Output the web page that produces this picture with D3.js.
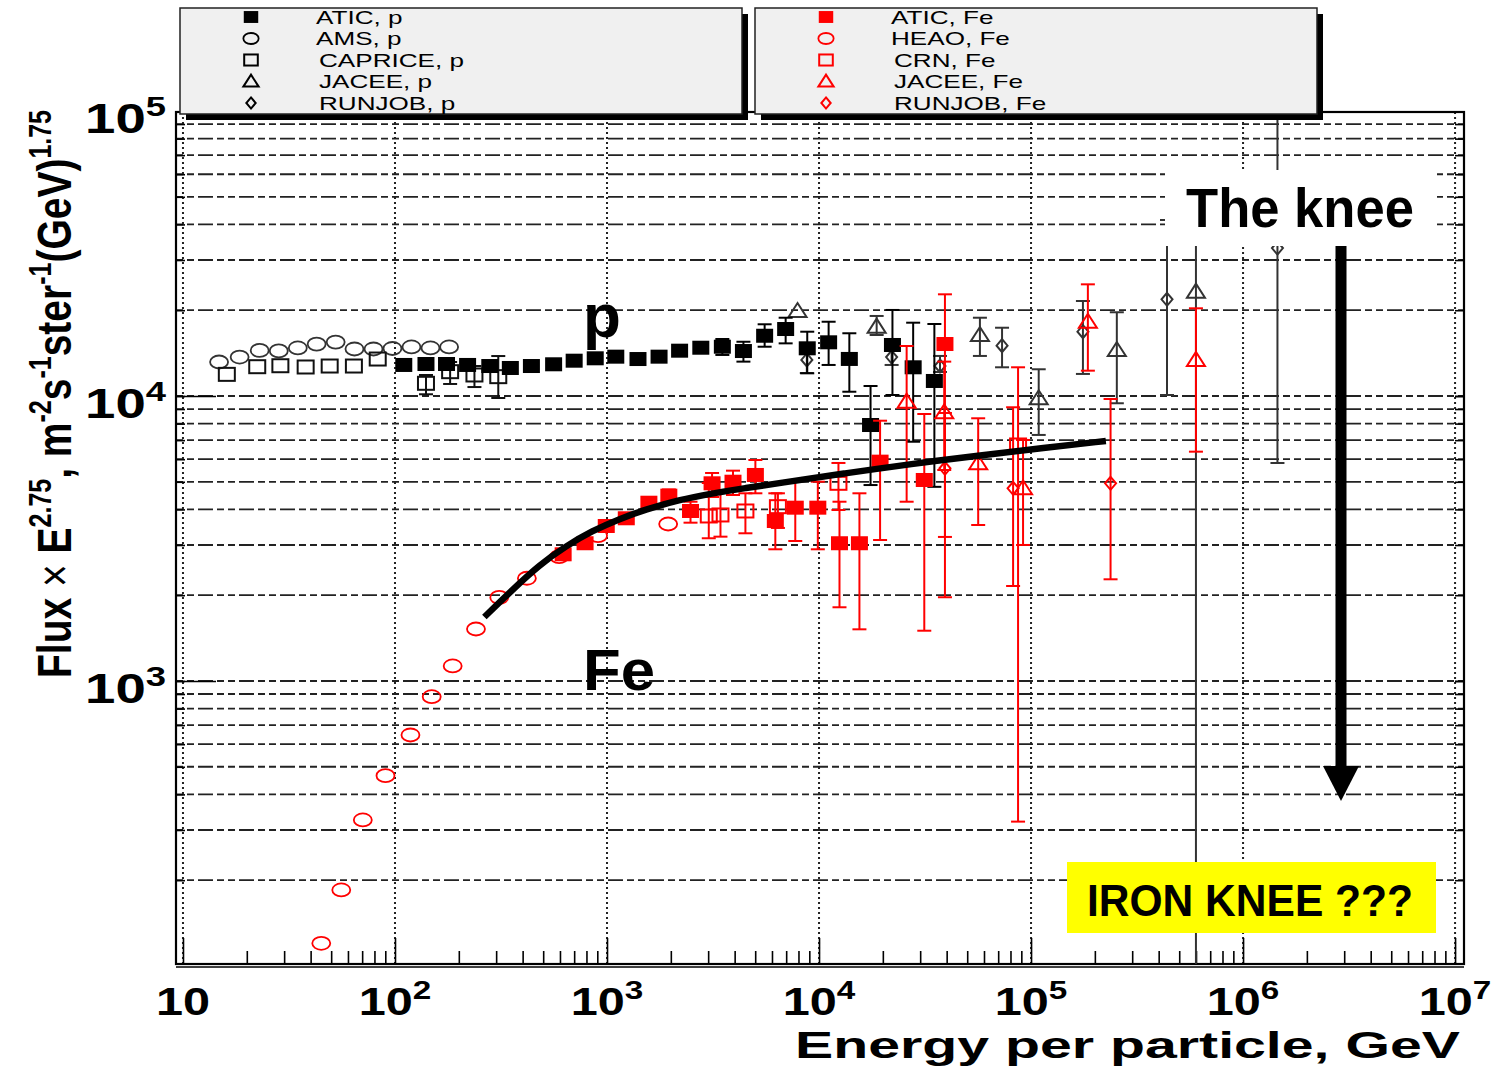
<!DOCTYPE html>
<html>
<head>
<meta charset="utf-8">
<script src="https://cdn.jsdelivr.net/npm/d3@7"></script>
<style>
  html, body { margin: 0; padding: 0; background: #ffffff; }
  svg { display: block; }
</style>
</head>
<body>
<svg id="chart" width="1499" height="1067"></svg>
<script>
// ---------------- DATA (energy GeV, flux*E^2.75, [lower, upper]) ----------------
const aticP = [
  [110,12850],[140,12950],[175,12950],[220,12850],[280,12740],[350,12540],[440,12740],
  [560,12920],[700,13300],[880,13560],[1100,13740],[1400,13480],[1760,13740],[2200,14420],
  [2770,14770],[3500,14890,13930,15850],[4400,14380,13200,15500],[5540,16270,14890,17850],
  [6960,17180,15300,18820],[8800,14700,12010,16810],[11100,15430,12850,18220],
  [13900,13490,10350,16600],[17500,7910,4870,10840],[22200,15100,10080,20040],
  [27800,12610,6910,18080],[35000,11290,4800,17890]
];
const amsP = [
  [14.8,13160],[18.5,13700],[23.0,14450],[28.3,14390],[34.8,14740],[42.7,15210],[52.5,15460],
  [64.4,14620],[79.2,14620],[97.3,14680],[119.6,14860],[147,14740],[180,14860]
];
const capriceP = [
  [16.1,11910],[22.4,12670],[28.8,12770],[37.9,12640],[49.2,12740],[64.0,12740],[82.9,13480],
  [140,11080,10140,11850],[182,12170,11020,13160],[237,11850,10750,12740],[307,11690,9840,13810]
];
const jaceeP = [
  [7920,19870],[18700,17510,16370,19090],[57400,16370,13820,18820],[108700,9815,7300,12410],
  [253900,14500,9430,19670],[599600,23230,50,43150]
];
const runjobP = [
  [8760,13380,12040,14270],[22000,13700,12850,14620],[37200,12740,12140,13820],
  [73000,15020,12610,17360],[175700,16810,11950,21540],[437900,21840,10080,41450],
  [1453000,33040,5820,200000]
];
const aticFe = [
  [621,2783],[788,3043],[992,3498],[1233,3723],[1576,4222],[1957,4469,4250,4700],
  [2477,3949,3593,4256],[3130,4939,4422,5369],[3929,5003,4494,5470],[5010,5283,4556,5963],
  [6222,3642,2898,4556],[7727,4056,3099,5003],[9871,4056,2898,5003],[12490,3043,1814,4256],
  [15510,3043,1518,4556],[19410,5883,3124,8190],[31370,5073,1501,8646],[39260,15220,1967,22740]
];
const heaoFe = [
  [44.9,120.1],[55.8,184.8],[70.5,325.3],[90.2,465.3],[118.3,646.4],[149,880.7],[187.1,1129],
  [241,1522],[310.3,1964],[418.9,2293],[594.5,2730],[907.2,3235],[1943,3555]
];
const crnFe = [
  [3020,3793,3168,4950],[3429,3824,3209,4680],[4496,3949,3298,4556],[6399,4089,3443,4556],
  [12350,4939,3981,5821],[86860,6731,321,12610]
];
const jaceeFe = [
  [25900,9550,4256,14980],[38960,8767,5500,13200],[56330,5806,3527,8352],[91700,4744,3001,7010],
  [185400,18220,12270,24650],[599600,13380,6377,20310]
];
const runjobFe = [
  [39260,5575,3202,8718],[82300,4744,2154,9129],[237200,4939,2274,9761]
];
const fitFe = [
  [264,1677],[357,2086],[479,2553],[641,2977],[850,3360],[1139,3702],[1526,3998],[2182,4317],
  [3120,4549],[4496,4756],[6448,4939],[13290,5357],[27250,5772],[56330,6183],[115100,6569],[225400,6954]
];

const xDecades = [1e1,1e2,1e3,1e4,1e5,1e6,1e7];
const xDecadeExp = ["","2","3","4","5","6","7"];
const yDecades = [1e3,1e4,1e5];
const yDecadeExp = ["3","4","5"];
const legendP = ["ATIC, p","AMS, p","CAPRICE, p","JACEE, p","RUNJOB, p"];
const legendFe = ["ATIC, Fe","HEAO, Fe","CRN, Fe","JACEE, Fe","RUNJOB, Fe"];
const legendMarkers = ["fsquare","circle","square","triangle","diamond"];

// ---------------- LAYOUT ----------------
const FONT = "'Liberation Sans', Arial, Helvetica, sans-serif";
const L = 176, R = 1464, T = 112, B = 964;
const RED = "#ff0000", BLK = "#111111";

const svg = d3.select("#chart");
const x = d3.scaleLog().domain([9.27, 1.102e7]).range([L, R]);
const y = d3.scaleLog().domain([101.6, 99200]).range([B, T]);

svg.append("defs").append("clipPath").attr("id","plotclip")
  .append("rect").attr("x",L).attr("y",T).attr("width",R-L).attr("height",B-T);

// ---------------- GRID ----------------
const minorY = [];
[100,1000,10000].forEach(d => { for (let m=1;m<=9;m++){ const v=m*d; if (v>=200 && v<=90000) minorY.push(v);} });
const minorX = [];
[10,100,1000,1e4,1e5,1e6].forEach(d => { for (let m=2;m<=9;m++) minorX.push(m*d); });

const grid = svg.append("g");
grid.selectAll("line.h").data(minorY).join("line")
  .attr("x1",L).attr("x2",R).attr("y1",d=>y(d)).attr("y2",d=>y(d))
  .attr("stroke","#222").attr("stroke-width",1.8).attr("stroke-dasharray","7,4,7,4,15,4");
grid.selectAll("line.v").data(xDecades).join("line")
  .attr("x1",d=>x(d)).attr("x2",d=>x(d)).attr("y1",T).attr("y2",B)
  .attr("stroke","#222").attr("stroke-width",2).attr("stroke-dasharray","2,3");

// ---------------- AXES (ticks) ----------------
function styleAxis(g){ g.select(".domain").remove(); g.selectAll("text").remove();
  g.selectAll("line").attr("stroke","#000").attr("stroke-width",1.6); }
svg.append("g").attr("transform",`translate(0,${B})`)
  .call(d3.axisBottom(x).tickValues(xDecades).tickSize(-26).tickFormat("")).call(styleAxis);
svg.append("g").attr("transform",`translate(0,${B})`)
  .call(d3.axisBottom(x).tickValues(minorX).tickSize(-13).tickFormat("")).call(styleAxis);
svg.append("g").attr("transform",`translate(${L},0)`)
  .call(d3.axisLeft(y).tickValues(yDecades.filter(v=>v<99000)).tickSize(-40).tickFormat("")).call(styleAxis);
svg.append("g").attr("transform",`translate(${L},0)`)
  .call(d3.axisLeft(y).tickValues(minorY).tickSize(-9).tickFormat("")).call(styleAxis);
svg.append("g").attr("transform",`translate(${R},0)`)
  .call(d3.axisRight(y).tickValues(minorY.concat([1e3,1e4])).tickSize(-9).tickFormat("")).call(styleAxis);

// frame
svg.append("rect").attr("x",L).attr("y",T).attr("width",R-L).attr("height",B-T)
  .attr("fill","none").attr("stroke","#000").attr("stroke-width",2.2);
svg.append("line").attr("x1",L).attr("x2",R).attr("y1",B+3).attr("y2",B+3)
  .attr("stroke","#000").attr("stroke-width",1.4);

// tick labels
const xl = svg.append("g").attr("font-family",FONT).attr("font-weight","bold").attr("fill","#000");
xDecades.forEach((d,i) => {
  const t = xl.append("text").attr("transform",`translate(${x(d)},1015) scale(1.28,1)`)
    .attr("text-anchor","middle").attr("font-size",38);
  t.append("tspan").text("10");
  if (xDecadeExp[i]) t.append("tspan").attr("dy",-16).attr("font-size",26).text(xDecadeExp[i]);
});
yDecades.forEach((d,i) => {
  const t = xl.append("text").attr("transform",`translate(166,${y(d)+22}) scale(1.3,1)`)
    .attr("text-anchor","end").attr("font-size",42);
  t.append("tspan").text("10");
  t.append("tspan").attr("dy",-17).attr("font-size",28).text(yDecadeExp[i]);
});

// axis titles
svg.append("text").attr("x",795).attr("y",1058).attr("font-family",FONT).attr("font-weight","bold")
  .attr("font-size",37).attr("textLength",665).attr("lengthAdjust","spacingAndGlyphs")
  .text("Energy per particle, GeV");

const yt = svg.append("text").attr("transform","translate(71,394) rotate(-90) scale(1,1.25)")
  .attr("text-anchor","middle").attr("font-family",FONT).attr("font-weight","bold").attr("font-size",39);
const ytParts = [
  ["Flux ",0,null],["×",0,"normal"],[" E",0,null],["2.75",1,null],[", m",0,null],["-2",1,null],
  ["s",0,null],["-1",1,null],["ster",0,null],["-1",1,null],["(GeV)",0,null],["1.75",1,null]
];
let sup = 0;
ytParts.forEach(([txt,s,w]) => {
  const sp = yt.append("tspan").text(txt);
  if (s && !sup) { sp.attr("dy",-16); sup = 1; } else if (!s && sup) { sp.attr("dy",16); sup = 0; }
  if (s) sp.attr("font-size",25);
  if (w) sp.attr("font-weight",w);
});

// ---------------- MARKERS ----------------
function marker(g, type, cx, cy, color, k=1){
  if (type === "fsquare") {
    g.append("rect").attr("x",cx-8.5*k).attr("y",cy-7*k).attr("width",17*k).attr("height",14*k).attr("fill",color);
  } else if (type === "square") {
    g.append("rect").attr("x",cx-8*k).attr("y",cy-6.5*k).attr("width",16*k).attr("height",13*k)
      .attr("fill","none").attr("stroke",color).attr("stroke-width",2);
  } else if (type === "circle") {
    g.append("ellipse").attr("cx",cx).attr("cy",cy).attr("rx",9*k).attr("ry",6.5*k)
      .attr("fill","none").attr("stroke",color).attr("stroke-width",1.8);
  } else if (type === "triangle") {
    g.append("path").attr("d",`M${cx-9*k},${cy+6*k}L${cx+9*k},${cy+6*k}L${cx},${cy-8*k}Z`)
      .attr("fill","none").attr("stroke",color).attr("stroke-width",2);
  } else if (type === "diamond") {
    g.append("path").attr("d",`M${cx},${cy-6.5*k}L${cx+5.5*k},${cy}L${cx},${cy+6.5*k}L${cx-5.5*k},${cy}Z`)
      .attr("fill","none").attr("stroke",color).attr("stroke-width",2);
  }
}

const plot = svg.append("g").attr("clip-path","url(#plotclip)");
function series(data, type, color){
  const g = plot.append("g");
  data.forEach(d => {
    const cx = x(d[0]), cy = y(d[1]);
    if (d.length > 2) {
      const y1 = y(d[2]), y2 = y(d[3]);
      g.append("line").attr("x1",cx).attr("x2",cx).attr("y1",y1).attr("y2",y2)
        .attr("stroke",color).attr("stroke-width",2);
      [y1,y2].forEach(yy => g.append("line").attr("x1",cx-7).attr("x2",cx+7).attr("y1",yy).attr("y2",yy)
        .attr("stroke",color).attr("stroke-width",2));
    }
    marker(g, type, cx, cy, color);
  });
}
series(amsP, "circle", "#333");
series(capriceP, "square", BLK);
series(jaceeP, "triangle", "#333");
series(runjobP, "diamond", "#333");
series(aticP, "fsquare", "#000");
series(heaoFe, "circle", RED);
series(crnFe, "square", RED);
series(jaceeFe, "triangle", RED);
series(runjobFe, "diamond", RED);
series(aticFe, "fsquare", RED);

// fit curve
svg.append("path").datum(fitFe)
  .attr("d", d3.line().x(d=>x(d[0])).y(d=>y(d[1])).curve(d3.curveBasis))
  .attr("fill","none").attr("stroke","#000").attr("stroke-width",6.5);

// ---------------- LEGENDS ----------------
function legend(x0, x1, items, color){
  const g = svg.append("g");
  g.append("rect").attr("x",x0+6).attr("y",14).attr("width",x1-x0).attr("height",106).attr("fill","#000");
  g.append("rect").attr("x",x0).attr("y",8).attr("width",x1-x0).attr("height",106)
    .attr("fill","#f0f0f0").attr("stroke","#222").attr("stroke-width",1.5);
  items.forEach((lab,i) => {
    const cy = 17 + i*21.5;
    marker(g, legendMarkers[i], x0+71, cy, color, 0.85);
    g.append("text").attr("transform",`translate(${x0+(i<2?136:139)},${cy+6.5}) scale(1.45,1)`)
      .attr("font-family",FONT).attr("font-size",18).attr("fill","#000").text(lab);
  });
}
legend(180, 742, legendP, "#000");
legend(755, 1317, legendFe, RED);

// ---------------- ANNOTATIONS ----------------
svg.append("text").attr("x",583).attr("y",337).attr("font-family",FONT).attr("font-weight","bold")
  .attr("font-size",62).text("p");
svg.append("text").attr("x",583).attr("y",690).attr("font-family",FONT).attr("font-weight","bold")
  .attr("font-size",58).attr("textLength",72).attr("lengthAdjust","spacingAndGlyphs").text("Fe");

svg.append("rect").attr("x",1165).attr("y",170).attr("width",272).attr("height",76).attr("fill","#fff");
svg.append("text").attr("x",1186).attr("y",227).attr("font-family",FONT).attr("font-weight","bold")
  .attr("font-size",55).attr("textLength",228).attr("lengthAdjust","spacingAndGlyphs").text("The knee");
svg.append("line").attr("x1",1341).attr("x2",1341).attr("y1",246).attr("y2",770)
  .attr("stroke","#000").attr("stroke-width",11);
svg.append("path").attr("d","M1323,766L1359,766L1341,801Z").attr("fill","#000");

svg.append("rect").attr("x",1067).attr("y",862).attr("width",369).attr("height",71).attr("fill","#ffff00");
svg.append("text").attr("x",1087).attr("y",916).attr("font-family",FONT).attr("font-weight","bold")
  .attr("font-size",44).attr("textLength",326).attr("lengthAdjust","spacingAndGlyphs").text("IRON KNEE ???");
</script>
</body>
</html>
